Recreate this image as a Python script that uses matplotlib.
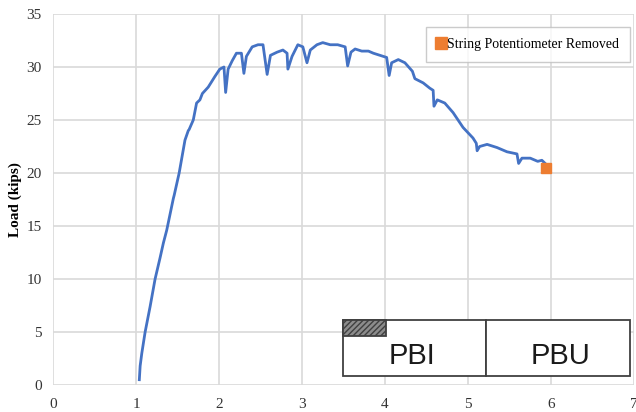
import matplotlib
matplotlib.use("Agg")
import matplotlib.pyplot as plt
from matplotlib.patches import Rectangle

# Load-displacement curve
disp = [1.04, 1.05, 1.07, 1.11, 1.17, 1.23, 1.29, 1.33, 1.37, 1.45, 1.46, 1.52, 1.59, 1.63, 1.64, 1.69, 1.73, 1.77,
        1.80, 1.87, 1.95, 2.01, 2.06, 2.08, 2.11, 2.16, 2.21, 2.27, 2.30, 2.33, 2.40, 2.47, 2.53,
        2.58, 2.62, 2.70, 2.77, 2.82, 2.83, 2.88, 2.95, 3.01, 3.06, 3.10, 3.18, 3.25, 3.34,
        3.43, 3.52, 3.55, 3.59, 3.64, 3.72, 3.80, 3.86, 3.94, 4.02, 4.05, 4.08, 4.16, 4.24,
        4.33, 4.36, 4.46, 4.54, 4.58, 4.59, 4.63, 4.72, 4.82, 4.94, 5.06, 5.10, 5.11, 5.14,
        5.23, 5.35, 5.47, 5.59, 5.61, 5.65, 5.75, 5.84, 5.89, 5.93]
load = [0.5, 1.8, 3.0, 5.0, 7.4, 10.0, 12.0, 13.4, 14.6, 17.6, 17.9, 20.0, 23.1, 24.0, 24.1, 25.0, 26.6, 26.9,
        27.5, 28.1, 29.1, 29.8, 30.0, 27.6, 29.8, 30.6, 31.3, 31.3, 29.4, 31.0, 31.9, 32.1, 32.1,
        29.3, 31.1, 31.4, 31.6, 31.3, 29.8, 31.0, 32.1, 31.9, 30.4, 31.6, 32.1, 32.3, 32.1,
        32.1, 31.9, 30.1, 31.4, 31.7, 31.5, 31.5, 31.3, 31.1, 30.9, 29.2, 30.4, 30.7, 30.4,
        29.6, 28.9, 28.5, 28.0, 27.8, 26.3, 26.9, 26.6, 25.7, 24.3, 23.3, 22.8, 22.1, 22.5,
        22.7, 22.4, 22.0, 21.8, 20.9, 21.4, 21.4, 21.1, 21.2, 20.9]

removed_x = [5.94]
removed_y = [20.5]

x_ticks = [0, 1, 2, 3, 4, 5, 6, 7]
y_ticks = [0, 5, 10, 15, 20, 25, 30, 35]

fig = plt.figure(figsize=(6.36, 4.12), dpi=100)
ax = fig.add_axes([53/636, 1-385/412, 581/636, 371/412])

ax.plot(disp, load, color="#4472C4", lw=2.0, solid_joinstyle="round", zorder=3)
ax.plot(removed_x, removed_y, ls="none", marker="s", ms=7, color="#ED7D31",
        label="String Potentiometer Removed", zorder=4)

ax.set_xlim(0, 7)
ax.set_ylim(0, 35)
ax.set_xticks(x_ticks)
ax.set_yticks(y_ticks)
ax.grid(True, color="#d9d9d9", lw=1.2, zorder=0)
for s in ax.spines.values():
    s.set_visible(False)
ax.tick_params(length=0, labelsize=11)
ax.tick_params(axis="y", pad=8)
ax.tick_params(axis="x", pad=9)
for lab in ax.get_xticklabels() + ax.get_yticklabels():
    lab.set_fontfamily("Liberation Serif")
    lab.set_color("#333333")

ax.set_ylabel("Load (kips)", fontfamily="Liberation Serif", fontweight="bold", fontsize=11, labelpad=3)

leg = ax.legend(loc="upper right", bbox_to_anchor=(0.993, 0.965), borderaxespad=0, fancybox=False,
                prop={"family": "Liberation Serif", "size": 10}, handlelength=0.6,
                handletextpad=0.1, borderpad=0.8, markerscale=1.2)
leg.get_frame().set_edgecolor("#bfbfbf")
leg.get_frame().set_linewidth(1.0)

# PBI / PBU inset boxes
ec = "#404040"
ax.add_patch(Rectangle((3.49, 0.85), 1.73, 5.28, facecolor="white", edgecolor=ec, lw=1.3, zorder=5))
ax.add_patch(Rectangle((5.22, 0.85), 1.73, 5.28, facecolor="white", edgecolor=ec, lw=1.3, zorder=5))
ax.add_patch(Rectangle((3.49, 4.62), 0.52, 1.51, facecolor="#8c8c8c", edgecolor=ec, lw=1.3,
                       hatch="//////", zorder=6))
ax.text(4.33, 2.7, "PBI", ha="center", va="center", fontsize=21,
        family="Liberation Sans", color="#1a1a1a", zorder=7)
ax.text(6.12, 2.7, "PBU", ha="center", va="center", fontsize=21,
        family="Liberation Sans", color="#1a1a1a", zorder=7)

fig.savefig("out.png", dpi=100)
